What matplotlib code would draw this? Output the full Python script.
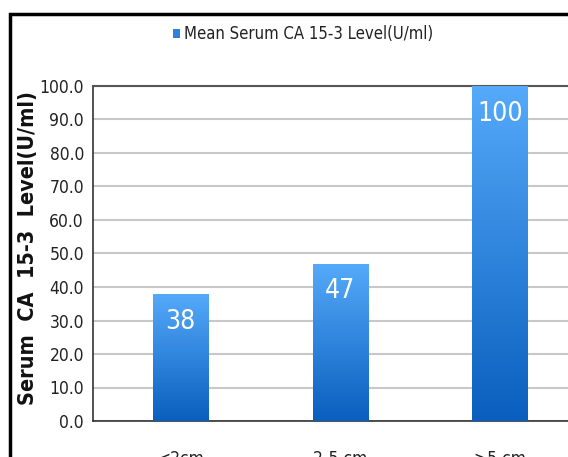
import numpy as np
import matplotlib
matplotlib.use("Agg")
import matplotlib.pyplot as plt
from matplotlib.patches import Patch, Rectangle
from matplotlib.colors import LinearSegmentedColormap

# Data
categories = ["<2cm", "2-5 cm", ">5 cm"]
values = [38, 47, 100]
y_ticks = [0, 10, 20, 30, 40, 50, 60, 70, 80, 90, 100]
series_name = "Mean Serum CA 15-3 Level(U/ml)"

plt.rcParams["font.family"] = ["DejaVu Sans"]
plt.rcParams["font.stretch"] = "condensed"

fig = plt.figure(figsize=(5.68, 4.57), dpi=100)
ax = fig.add_axes([93 / 568, 1 - 421 / 457, 478.5 / 568, (421 - 86) / 457])

x = np.arange(len(categories))
width = 0.345
bars = ax.bar(x, values, width=width, color="#3a8ae0", zorder=2)

# vertical gradient per bar, light at top, dark at bottom
cmap = LinearSegmentedColormap.from_list("blu", ["#0a5fbe", "#55aafa"])
grad = np.linspace(0, 1, 256).reshape(-1, 1)
for b in bars:
    x0, w, h = b.get_x(), b.get_width(), b.get_height()
    im = ax.imshow(grad, cmap=cmap, origin="lower", aspect="auto",
                   extent=[x0, x0 + w, 0, h], zorder=3)
    im.set_clip_path(b)

for xi, v in zip(x, values):
    ax.text(xi, v - 8.3, f"{v}", ha="center", va="center", color="white",
            fontsize=19, zorder=4)

ax.set_xlim(-0.55, 2.45)
ax.set_ylim(0, 100)
ax.set_yticks(y_ticks)
ax.set_yticklabels([f"{t:.1f}" for t in y_ticks])
ax.set_xticks(x)
ax.set_xticklabels(categories)
ax.tick_params(axis="y", length=0, pad=6.5, labelsize=12.5, labelcolor="#222222")
ax.tick_params(axis="x", length=0, pad=21, labelsize=12.5, labelcolor="#222222")

ax.yaxis.grid(True, color="#c8c8c8", lw=1.5, zorder=0)
ax.set_axisbelow(True)
ax.spines["right"].set_visible(False)
ax.spines["top"].set_color("#555555")
ax.spines["top"].set_linewidth(1.5)
ax.spines["left"].set_color("#333333")
ax.spines["bottom"].set_color("#333333")
ax.spines["left"].set_linewidth(1.2)
ax.spines["bottom"].set_linewidth(1.2)

ax.set_ylabel("Serum  CA  15-3  Level(U/ml)", fontsize=15.5, fontweight="bold",
              color="#111111")
ax.yaxis.set_label_coords(-(93 - 38) / 478.5, 0.515)

handles = [Patch(facecolor="#2f7fdc", edgecolor="none", label=series_name)]
fig.legend(handles=handles, loc="center", bbox_to_anchor=(303 / 568, 1 - 34 / 457),
           frameon=False, fontsize=12, handlelength=0.45, handleheight=0.45,
           handletextpad=0.25, labelcolor="#222222")

# outer chart border, cut off at right and bottom
fig.patches.append(Rectangle((10 / 568, -0.2), 1.2, 1.2 - 13.5 / 457,
                             transform=fig.transFigure, fill=False,
                             edgecolor="black", lw=2.5))

fig.savefig("out.png", dpi=100)
